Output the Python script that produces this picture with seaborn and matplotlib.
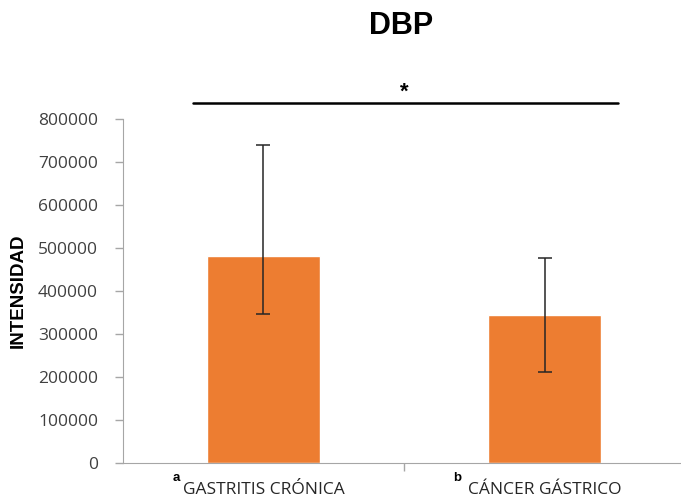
import matplotlib
matplotlib.use("Agg")
import matplotlib.pyplot as plt
import matplotlib.transforms as mtransforms
import seaborn as sns
import numpy as np

# datos
grupos = ["GASTRITIS CRÓNICA", "CÁNCER GÁSTRICO"]
letras = ["a", "b"]
intensidad = [481000, 345000]
err_inf = [134500, 133500]
err_sup = [259000, 131000]

sns.set_style("white")
plt.rcParams['font.family'] = ['Open Sans', 'DejaVu Sans']
negrita = ['Liberation Sans', 'DejaVu Sans']

fig = plt.figure(figsize=(6.81, 5.01), dpi=100)
ax = fig.add_axes([0.1806, 0.0758, 0.8253, 0.6867])

sns.barplot(x=grupos, y=intensidad, color="#ED7D31", saturation=1,
            width=0.4, errorbar=None, ax=ax)
ax.errorbar(range(len(grupos)), intensidad, yerr=[err_inf, err_sup],
            fmt="none", ecolor="#262626", elinewidth=1.1, capsize=5, capthick=1.1)

ax.set_xlim(-0.5, 1.5)
ax.set_ylim(0, 800000)
ax.set_yticks(np.arange(0, 800001, 100000))
ax.set_yticklabels([str(v) for v in range(0, 800001, 100000)])

gris = "#A6A6A6"
sns.despine(ax=ax, top=True, right=True)
ax.spines['left'].set_color(gris)
ax.spines['bottom'].set_color(gris)
ax.tick_params(axis='y', direction='out', length=6, width=1, color=gris,
               labelsize=12.5, labelcolor="#404040", pad=12, left=True)
ax.tick_params(axis='x', length=0, labelsize=12.5, labelcolor="#262626", pad=14)
ax.set_xticks([0.5], minor=True)
ax.tick_params(axis='x', which='minor', direction='out', length=6, width=1, color=gris, bottom=True)

# superindices a / b
trans = mtransforms.blended_transform_factory(ax.transData, ax.transAxes)
for i, l in enumerate(letras):
    ax.text(i - 0.31, -0.043, l, transform=trans, fontsize=9.5, fontweight='bold',
            family=negrita, ha='center', va='center', color='black')

ax.set_ylabel("INTENSIDAD", fontsize=13.5, fontweight='bold', family=negrita,
              color='black', labelpad=8)
ax.set_xlabel("")

# barra de significancia
ax.plot([-0.25, 1.26], [837000, 837000], color="black", lw=1.8, clip_on=False)
ax.text(0.5, 862000, "*", ha='center', va='center', fontsize=16, fontweight='bold',
        family=negrita, color='black', clip_on=False)

fig.text(0.589, 0.948, "DBP", ha='center', va='center', fontsize=22, fontweight='bold',
         family=negrita, color='black')

fig.savefig("out.png", dpi=100)
